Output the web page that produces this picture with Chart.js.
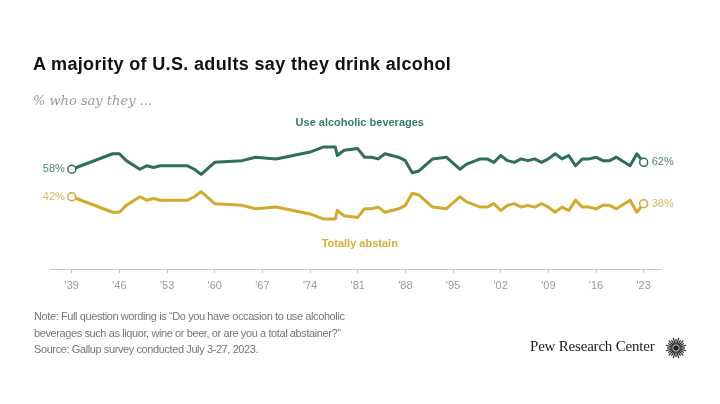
<!DOCTYPE html>
<html>
<head>
<meta charset="utf-8">
<script src="https://cdn.jsdelivr.net/npm/chart.js@4"></script>
<style>
  html, body { margin: 0; padding: 0; background: #fff; }
  #wrap { position: relative; width: 720px; height: 404px; overflow: hidden; }
  #chart { position: absolute; left: 0; top: 0; }
  .txt { position: absolute; white-space: nowrap; }
  #title { left: 33px; top: 54px; font: bold 18px "Liberation Sans", Arial, sans-serif; color: #111; letter-spacing: 0.35px; }
  #subtitle { left: 33px; top: 93px; font: italic 13px "DejaVu Serif", Georgia, serif; color: #9a9a9a; }
  #note { left: 34px; top: 308px; font: 11px "Liberation Sans", Arial, sans-serif; color: #777; line-height: 16.5px; letter-spacing: -0.4px; }
  #pew { left: 530px; top: 338px; font: 15px "Liberation Serif", "DejaVu Serif", serif; color: #222; letter-spacing: -0.2px; }
  #logo { position: absolute; left: 664px; top: 336px; }
</style>
</head>
<body>
<div id="wrap">
  <canvas id="chart" width="720" height="404"></canvas>
  <div class="txt" id="title">A majority of U.S. adults say they drink alcohol</div>
  <div class="txt" id="subtitle">% who say they ...</div>
  <div class="txt" id="note">Note: Full question wording is “Do you have occasion to use alcoholic<br>beverages such as liquor, wine or beer, or are you a total abstainer?”<br>Source: Gallup survey conducted July 3-27, 2023.</div>
  <div class="txt" id="pew">Pew Research Center</div>
  <svg id="logo" width="24" height="24" viewBox="-12 -12 24 24"></svg>
</div>
<script>
// survey years (two polls in 1977/78)
const years = [1939, 1945, 1946, 1947, 1949, 1950, 1951, 1952, 1956, 1957,
  1958, 1960, 1964, 1966, 1969, 1974, 1976, 1977, 1977.7, 1978,
  1979, 1981, 1982, 1983, 1984, 1985, 1987, 1988, 1989, 1990,
  1992, 1994, 1996, 1997, 1999, 2000, 2001, 2002, 2003, 2004,
  2005, 2006, 2007, 2008, 2009, 2010, 2011, 2012, 2013, 2014,
  2015, 2016, 2017, 2018, 2019, 2021, 2022, 2023];

const useAlcohol = [58, 67, 67, 63, 58, 60, 59, 60, 60, 58,
  55, 62, 63, 65, 64, 68, 71, 71, 71, 66,
  69, 70, 65, 65, 64, 67, 65, 63, 56, 57,
  64, 65, 58, 61, 64, 64, 62, 66, 63, 62,
  64, 63, 64, 62, 64, 67, 64, 66, 60, 64,
  64, 65, 63, 63, 65, 60, 67, 62];

const abstain = [42, 33, 33, 37, 42, 40, 41, 40, 40, 42,
  45, 38, 37, 35, 36, 32, 29, 29, 29, 34,
  31, 30, 35, 35, 36, 33, 35, 37, 44, 43,
  36, 35, 42, 39, 36, 36, 38, 34, 37, 38,
  36, 37, 36, 38, 36, 33, 36, 34, 40, 36,
  36, 35, 37, 37, 35, 40, 33, 38];

const tickYears = [1939, 1946, 1953, 1960, 1967, 1974, 1981, 1988, 1995, 2002, 2009, 2016, 2023];

const seriesNames = ['Use alcoholic beverages', 'Totally abstain'];

const green = '#2d6e5e';
const gold = '#d3aa2c';

function toPoints(vals) {
    return years.map((y, i) => ({ x: y, y: vals[i] }));
}

function endRadius(ctx) {
    let n = ctx.dataset.data.length;
    return (ctx.dataIndex === 0 || ctx.dataIndex === n - 1) ? 4 : 0;
}

// end labels + series names
const labelPlugin = {
    id: 'labels',
    afterDatasetsDraw(chart) {
        const ctx = chart.ctx;
        const xs = chart.scales.x, ys = chart.scales.y;
        const labelCols = ['#4f8577', '#d9b75a'];
        ctx.save();
        ctx.font = '11px "Liberation Sans", Arial, sans-serif';
        ctx.textBaseline = 'middle';
        chart.data.datasets.forEach((ds, i) => {
            let meta = chart.getDatasetMeta(i);
            let first = meta.data[0], last = meta.data[meta.data.length - 1];
            ctx.fillStyle = labelCols[i];
            ctx.textAlign = 'right';
            ctx.fillText(ds.data[0].y + '%', first.x - 7, first.y);
            ctx.textAlign = 'left';
            ctx.fillText(ds.data[ds.data.length - 1].y + '%', last.x + 8, last.y);
        });
        ctx.font = 'bold 11px "Liberation Sans", Arial, sans-serif';
        ctx.textAlign = 'center';
        ctx.fillStyle = '#3b7a6b';
        ctx.fillText(seriesNames[0], xs.getPixelForValue(1981.3), ys.getPixelForValue(85));
        ctx.fillStyle = '#d6ad35';
        ctx.fillText(seriesNames[1], xs.getPixelForValue(1981.3), ys.getPixelForValue(14.5));
        ctx.restore();
    }
};

new Chart(document.getElementById('chart').getContext('2d'), {
    type: 'line',
    data: {
        datasets: [{
            label: seriesNames[0],
            data: toPoints(useAlcohol),
            borderColor: green,
            pointBorderColor: green,
            pointBackgroundColor: '#fff'
        }, {
            label: seriesNames[1],
            data: toPoints(abstain),
            borderColor: gold,
            pointBorderColor: gold,
            pointBackgroundColor: '#fff'
        }]
    },
    options: {
        responsive: false,
        animation: false,
        layout: { padding: { left: 50, right: 60, top: 97, bottom: 105 } },
        elements: {
            line: { borderWidth: 3, tension: 0, borderJoinStyle: 'round', borderCapStyle: 'round' },
            point: { radius: endRadius, borderWidth: 1.5, hoverRadius: endRadius }
        },
        plugins: { legend: { display: false }, tooltip: { enabled: false } },
        scales: {
            x: {
                type: 'linear',
                min: 1935.8,
                max: 2025.4,
                afterBuildTicks: (s) => { s.ticks = tickYears.map(v => ({ value: v })); },
                afterFit: (s) => { s.height = 30; },
                border: { display: true, color: '#c4c4c4', width: 1 },
                grid: { drawOnChartArea: false, drawTicks: true, tickLength: 4, color: '#c4c4c4' },
                ticks: {
                    padding: 6,
                    color: '#9a9a9a',
                    font: { size: 11, family: '"Liberation Sans", sans-serif' },
                    maxRotation: 0,
                    autoSkip: false,
                    callback: (v) => "'" + String(v).slice(2)
                }
            },
            y: { display: false, min: 0, max: 100 }
        }
    },
    plugins: [labelPlugin]
});

// Pew starburst
const logo = document.getElementById('logo');
let rays = '';
for (let k = 0; k < 24; k++) {
    let a = k * Math.PI * 2 / 24;
    let r1 = 3.5, r2 = (k % 2 ? 10.5 : 9);
    rays += `<line x1="${(r1 * Math.cos(a)).toFixed(2)}" y1="${(r1 * Math.sin(a)).toFixed(2)}" x2="${(r2 * Math.cos(a)).toFixed(2)}" y2="${(r2 * Math.sin(a)).toFixed(2)}" stroke="#222" stroke-width="1.2"/>`;
}
logo.innerHTML = rays + '<circle r="2.8" fill="#222"/>';
</script>
</body>
</html>
